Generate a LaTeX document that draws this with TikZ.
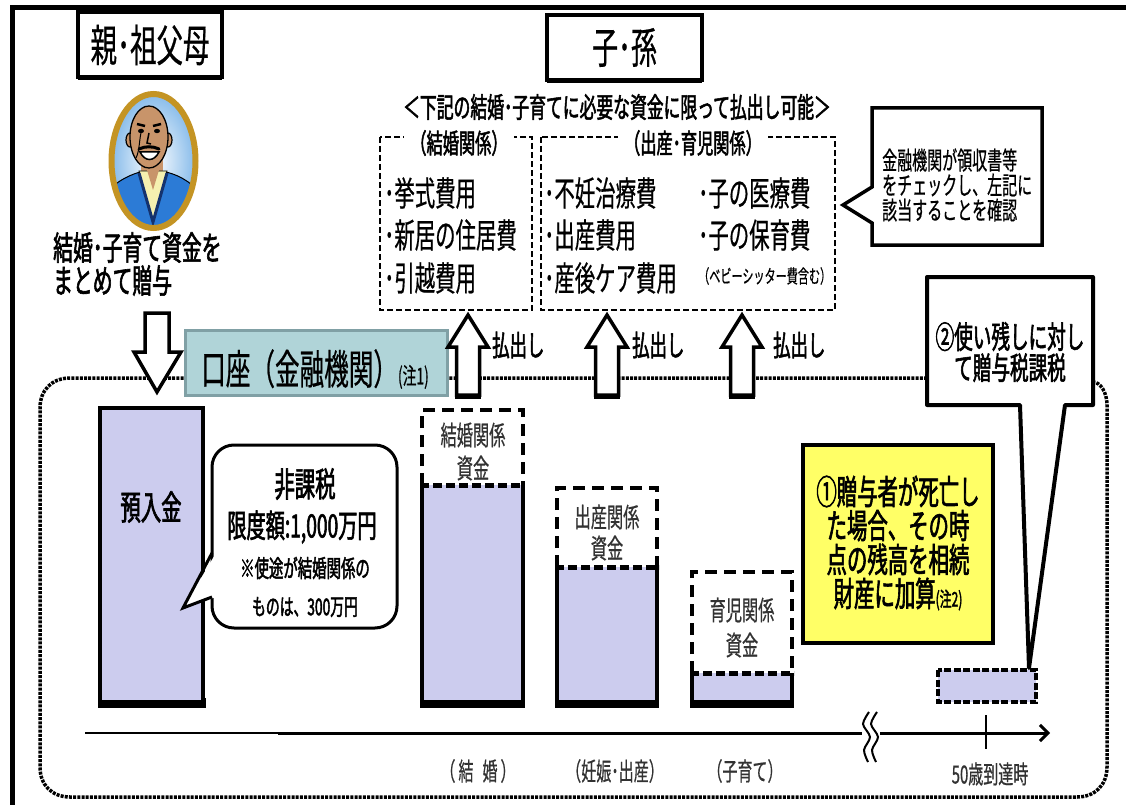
\documentclass[tikz,border=0pt]{standalone}
\usepackage{fontspec}
\newfontfamily\jr[FakeStretch=0.6,FakeBold=0.5]{Noto Sans CJK JP}
\newfontfamily\jb[FakeStretch=0.6,FakeBold=1.8]{Noto Sans CJK JP}
\usetikzlibrary{shadows,arrows.meta}
\newcommand\jsz[1]{\fontsize{#1}{#1}\selectfont}

\definecolor{lav}{RGB}{204,204,238}
\definecolor{teal}{RGB}{176,212,216}
\definecolor{tealedge}{RGB}{128,160,165}
\definecolor{ybox}{RGB}{255,255,102}
\definecolor{gold}{RGB}{196,148,36}
\definecolor{skyb}{RGB}{140,190,235}
\definecolor{jacket}{RGB}{44,123,214}
\definecolor{navy}{RGB}{20,50,110}
\definecolor{shirt}{RGB}{245,240,176}
\definecolor{skin}{RGB}{200,148,106}
\definecolor{labgray}{RGB}{50,50,50}

\begin{document}
\begin{tikzpicture}[x=1pt,y=-1pt,
  titlebox/.style={draw=black, line width=4pt, fill=white, inner sep=0pt,
    drop shadow={shadow xshift=0pt, shadow yshift=-3pt, opacity=1, fill=black}},
  grpdash/.style={line width=2pt, dash pattern=on 6pt off 3pt},
  dotline/.style={line width=3.5pt, dash pattern=on 3pt off 1.2pt},
  harrow/.style={draw=black, fill=white, line width=3.5pt, line join=miter},
  bardash/.style={line width=4.5pt, dash pattern=on 12pt off 7pt},
  splitdash/.style={line width=5pt, dash pattern=on 9pt off 4pt},
  item/.style={anchor=west, inner sep=0pt, font=\jr\jsz{34}},
  barlab/.style={inner sep=0pt, text=labgray, font=\jr\jsz{27}},
  axlab/.style={inner sep=0pt, text=labgray, font=\jr\jsz{25}},
  payout/.style={anchor=west, inner sep=0pt, font=\jb\jsz{29}}
]
\useasboundingbox (0,0) rectangle (1126,805);
\fill[white] (0,0) rectangle (1126,805);

% outer frame
\draw[line width=5pt] (12,8) rectangle (1140,830);

% ---------- givers ----------
\node[titlebox, minimum width=144pt, minimum height=65pt] (giver) at (150,45) {\jr\jsz{44}親･祖父母};

% portrait
\begin{scope}
  \clip (153.5,161) ellipse [x radius=40pt, y radius=65pt];
  \shade[inner color=white, outer color=skyb] (153.5,161) ellipse [x radius=40pt, y radius=65pt];
  \fill[skin] (141,150) rectangle (163,180);
  \filldraw[fill=jacket, draw=black, line width=1pt]
    (100,240) -- (100,200) .. controls (112,184) and (126,176) .. (140,172)
    -- (166,172) .. controls (182,176) and (194,184) .. (206,200) -- (206,240) -- cycle;
  \filldraw[fill=shirt, draw=black, line width=0.8pt] (139,171) -- (167,171) -- (153,222) -- cycle;
  \draw[navy, line width=3pt] (139,173) -- (153,222) -- (167,173);
  \fill[skin] (144,160) -- (162,160) -- (153,190) -- cycle;
  \filldraw[fill=skin, draw=black, line width=1.2pt] (130,140) ellipse [x radius=4pt, y radius=7pt];
  \filldraw[fill=skin, draw=black, line width=1.2pt] (168,140) ellipse [x radius=4pt, y radius=7pt];
  \filldraw[fill=skin, draw=black, line width=1.3pt] (149,137) ellipse [x radius=19pt, y radius=31pt];
  \draw[line width=2.5pt] (137,124) -- (145,126);
  \draw[line width=2.5pt] (153,126) -- (161,124);
  \fill (141,131) ellipse [x radius=3pt, y radius=2.2pt];
  \fill (157,131) ellipse [x radius=3pt, y radius=2.2pt];
  \draw[line width=1.5pt] (149,133) -- (147,143) -- (151,144);
  \draw[line width=3pt, line cap=round] (139,149) .. controls (145,146) and (153,146) .. (159,149);
  \filldraw[fill=white, draw=black, line width=1.5pt] (140,152) .. controls (145,162) and (154,162) .. (159,152) -- cycle;
  \draw[line width=1pt] (142,129) .. controls (139,138) and (140,150) .. (136,158);
\end{scope}
\draw[gold, line width=6pt] (153.5,161) ellipse [x radius=42pt, y radius=67pt];

\node[anchor=west, inner sep=0pt, align=left, font=\jb\jsz{33}] (gifttxt) at (53,264)
  {\fontsize{33}{32}\selectfont 結婚･子育て資金を\\まとめて贈与};

% ---------- recipients ----------
\node[titlebox, minimum width=155pt, minimum height=65pt] (recv) at (624.5,47.5) {\jr\jsz{43}子･孫};
\node[inner sep=0pt, font=\jb\jsz{28}] (cond) at (617,107) {＜下記の結婚･子育てに必要な資金に限って払出し可能＞};

% expense groups
\draw[grpdash] (380,137) rectangle (532,310);
\node[fill=white, inner xsep=6pt, inner ysep=1pt, font=\jb\jsz{27}] (g1h) at (459,143) {（結婚関係）};
\node[item] (e1) at (384,193) {･挙式費用};
\node[item] (e2) at (384,235) {･新居の住居費};
\node[item] (e3) at (384,278) {･引越費用};

\draw[grpdash] (541,137) rectangle (835,310);
\node[fill=white, inner xsep=6pt, inner ysep=1pt, font=\jb\jsz{27}] (g2h) at (693,143) {（出産･育児関係）};
\node[item] (f1) at (544,193) {･不妊治療費};
\node[item] (f2) at (544,235) {･出産費用};
\node[item] (f3) at (544,278) {･産後ケア費用};
\node[item] (f4) at (698,193) {･子の医療費};
\node[item] (f5) at (698,235) {･子の保育費};
\node[anchor=west, inner sep=0pt, font=\jr\jsz{18.5}] (f6) at (698,276) {（ベビーシッター費含む）};

% bank check callout
\filldraw[fill=white, draw=black, line width=3.5pt, line join=miter]
  (872,108) -- (1042,108) -- (1042,245) -- (872,245) -- (872,223) -- (843,205) -- (872,187) -- cycle;
\node[anchor=west, inner sep=0pt, align=left, font=\jr\jsz{25}] (check) at (882,185)
  {\fontsize{25}{35}\selectfont 金融機関が領収書等\\をチェックし、左記に\\該当することを確認};

% ---------- account ----------
\draw[dotline] (927,378) -- (70,378) .. controls (52,378) and (40,390) .. (40,408)
  -- (40,767) .. controls (40,785) and (52,797) .. (70,797)
  -- (1077,797) .. controls (1095,797) and (1107,785) .. (1107,767)
  -- (1107,405) .. controls (1107,392) and (1100,382) .. (1093,382);

\node[draw=tealedge, fill=teal, line width=3pt, minimum width=262pt, minimum height=65pt] (acct) at (316,362.5) {};
\node[inner sep=0pt] (accttxt) at (315,369) {\jr\jsz{41}口座（金融機関）\jsz{23}(注1)};

% deposit arrow
\draw[harrow] (145,313) -- (169,313) -- (169,352) -- (181,352) -- (157,392) -- (134,352) -- (145,352) -- cycle;

% payout arrows
\foreach \c in {468,607,742} {
  \fill (\c-13,393) rectangle (\c+13,399);
  \draw[harrow] (\c-11.5,395) -- (\c-11.5,347) -- (\c-20,347) -- (\c,315) -- (\c+20,347) -- (\c+11.5,347) -- (\c+11.5,395) -- cycle;
}
\node[payout] (p1) at (492,345) {払出し};
\node[payout] (p2) at (632,345) {払出し};
\node[payout] (p3) at (773,345) {払出し};

% deposit bar
\fill (98,698) rectangle (206,708);
\filldraw[fill=lav, line width=4pt] (100,408) rectangle (203,702);
\node[inner sep=0pt, font=\jb\jsz{34}] (dep) at (151,507) {預入金};

% tax-free bubble
\node[draw, fill=white, line width=3pt, rounded corners=22pt, minimum width=185pt, minimum height=183pt] (bub) at (304.5,536.5) {};
\fill[white] (216,553) -- (183,608) -- (216,597) -- cycle;
\draw[line width=3pt, line join=miter] (212,553) -- (183,608) -- (212,597);
\node[inner sep=0pt, font=\jb\jsz{34}] (b1) at (305,484) {非課税};
\node[inner sep=0pt, font=\jb\jsz{32}] (b2) at (302,527) {限度額:1,000万円};
\node[inner sep=0pt, font=\jb\jsz{24}] (b3) at (305,568) {※使途が結婚関係の};
\node[inner sep=0pt, font=\jb\jsz{23}] (b4) at (305,607) {ものは、300万円};

% balance bars
\foreach \xa/\xb/\yt/\ys in {422/523/410/485, 557/657/488/567, 692/792/572/673} {
  \fill[lav] (\xa,\ys) rectangle (\xb,703);
  \fill (\xa-2,700) rectangle (\xb+2,708);
  \draw[line width=4pt] (\xa,\ys) -- (\xa,703) -- (\xb,703) -- (\xb,\ys);
  \draw[bardash] (\xa,\ys) -- (\xa,\yt) -- (\xb,\yt) -- (\xb,\ys);
  \draw[splitdash] (\xa-2,\ys) -- (\xb+2,\ys);
}
\node[barlab] (m1) at (473,435) {結婚関係};
\node[barlab] (m2) at (473,468) {資金};
\node[barlab] (n1) at (607,517) {出産関係};
\node[barlab] (n2) at (607,548) {資金};
\node[barlab] (c1) at (742,610) {育児関係};
\node[barlab] (c2) at (742,645) {資金};

% remaining balance
\filldraw[fill=lav, line width=4.5pt, dash pattern=on 7pt off 2.5pt] (938,670) rectangle (1036,702);
\coordinate (rest) at (1029,668);

% inheritance note
\node[draw, fill=ybox, line width=4.5pt, minimum width=190pt, minimum height=198pt,
  drop shadow={shadow xshift=0pt, shadow yshift=-2pt, opacity=1, fill=black}] (inh) at (898,544) {};
\node[inner sep=0pt, align=center, font=\jb\jsz{34}] (inhtxt) at (898,543)
  {\fontsize{34}{40}\selectfont ①贈与者が死亡し\\た場合、その時\\点の残高を相続\\財産に加算{\jsz{20}(注2)}};

% gift tax note
\filldraw[fill=white, line width=4pt, line join=round]
  (927,277) -- (1093,277) -- (1093,405) -- (1065,405) -- (rest) -- (1020,405) -- (927,405) -- cycle;
\node[inner sep=0pt, align=center, font=\jb\jsz{31}] (tax) at (1010,352)
  {\fontsize{31}{40}\selectfont ②使い残しに対し\\て贈与税課税};

% ---------- time axis ----------
\coordinate (ax0) at (85,733);
\coordinate (ax1) at (278,733);
\coordinate (ax2) at (862,733);
\coordinate (ax3) at (880,733);
\coordinate (ax4) at (1050,733);
\draw[line width=1.5pt] (ax0) -- (ax1);
\draw[line width=3pt] (ax1) -- (ax2);
\draw[line width=3pt, -{Straight Barb[length=8pt,width=16pt]}] (ax3) -- (ax4);
\draw[line width=2pt] plot[smooth] coordinates {(869,712) (863,724) (870,737) (864,750) (868,762)};
\draw[line width=2pt] plot[smooth] coordinates {(877,712) (871,724) (878,737) (872,750) (876,762)};
\coordinate (tk0) at (986,715);
\coordinate (tk1) at (986,749);
\draw[line width=2pt] (tk0) -- (tk1);

\node[axlab] (l1) at (478,771) {（\hspace{3pt}結\hspace{9pt}婚\hspace{3pt}）};
\node[axlab] (l2) at (615,771) {（妊娠･出産）};
\node[axlab] (l3) at (745,771) {（子育て）};
\node[axlab] (l4) at (990,774) {50歳到達時};
\end{tikzpicture}
\end{document}
